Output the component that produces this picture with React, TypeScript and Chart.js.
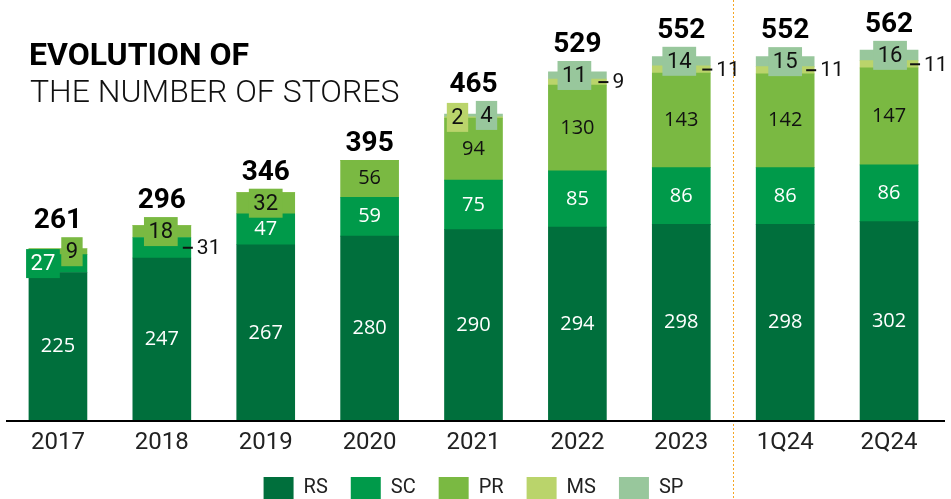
import React, { useEffect, useRef } from 'react';
import { Chart, registerables } from 'chart.js';
Chart.register(...registerables);

// ---------- data ----------
const categories = ['2017', '2018', '2019', '2020', '2021', '2022', '2023', '1Q24', '2Q24'];
const seriesNames = ['RS', 'SC', 'PR', 'MS', 'SP'];
const rsValues = [225, 247, 267, 280, 290, 294, 298, 298, 302];
const scValues = [27, 31, 47, 59, 75, 85, 86, 86, 86];
const prValues = [9, 18, 32, 56, 94, 130, 143, 142, 147];
const msValues = [0, 0, 0, 0, 2, 9, 11, 11, 11];
const spValues = [0, 0, 0, 0, 4, 11, 14, 15, 16];
const titleBold = 'EVOLUTION OF';
const titleLight = 'THE NUMBER OF STORES';

// ---------- styles ----------
const seriesValues = [rsValues, scValues, prValues, msValues, spValues];
const colors = ['#006f3c', '#009a4a', '#7ab942', '#bad46b', '#98c79c'];
const textColors = ['#ffffff', '#ffffff', '#111111', '#111111', '#111111'];
// label drawn in a coloured box, value = horizontal offset from bar centre
const boxPlacement: Record<number, Record<number, number>> = {
  1: { 0: -15 },
  2: { 0: 14, 1: -1, 2: 0 },
  3: { 4: -16 },
  4: { 4: 13, 5: -3, 6: -2, 7: 0, 8: 1 },
};
// label drawn to the right of the bar with a leader dash
const sidePlacement: Record<number, number[]> = { 1: [1], 3: [5, 6, 7, 8] };

const PX_PER_UNIT = 0.66;

const storePlugin = {
  id: 'storePlugin',
  beforeDatasetsDraw(chart: any) {
    const { ctx, scales } = chart;
    const xs = scales.x;
    const sepX = Math.round((xs.getPixelForValue(6) + xs.getPixelForValue(7)) / 2) + 0.5;
    ctx.save();
    ctx.strokeStyle = '#f5a623';
    ctx.lineWidth = 1;
    ctx.setLineDash([2, 2]);
    ctx.beginPath();
    ctx.moveTo(sepX, 0);
    ctx.lineTo(sepX, chart.height);
    ctx.stroke();
    ctx.restore();
  },
  afterDatasetsDraw(chart: any) {
    const { ctx, chartArea } = chart;
    const tops: number[] = categories.map(() => Infinity);
    ctx.save();
    chart.data.datasets.forEach((ds: any, di: number) => {
      const meta = chart.getDatasetMeta(di);
      meta.data.forEach((el: any, i: number) => {
        const v = ds.data[i] as number;
        const p = el.getProps(['x', 'y', 'base', 'width'], true);
        tops[i] = Math.min(tops[i], p.y, p.base);
        if (!v) return;
        const cy = (p.y + p.base) / 2;
        const boxDx = boxPlacement[di] ? boxPlacement[di][i] : undefined;
        const side = sidePlacement[di] ? sidePlacement[di].includes(i) : false;
        const txt = String(v);
        if (boxDx !== undefined) {
          ctx.font = '400 22px Roboto';
          const tw = ctx.measureText(txt).width;
          const bw = tw + 9;
          const bh = 29;
          const cx = p.x + boxDx;
          ctx.fillStyle = colors[di];
          ctx.fillRect(cx - bw / 2, cy - bh / 2, bw, bh);
          tops[i] = Math.min(tops[i], cy - bh / 2);
          ctx.fillStyle = textColors[di];
          ctx.textAlign = 'center';
          ctx.textBaseline = 'middle';
          ctx.fillText(txt, cx, cy + 1);
        } else if (side) {
          const right = p.x + p.width / 2;
          ctx.strokeStyle = '#111';
          ctx.lineWidth = 2;
          ctx.setLineDash([]);
          ctx.beginPath();
          ctx.moveTo(right - 8, cy);
          ctx.lineTo(right + 2, cy);
          ctx.stroke();
          ctx.font = '400 21px Roboto';
          ctx.fillStyle = '#111';
          ctx.textAlign = 'left';
          ctx.textBaseline = 'middle';
          ctx.fillText(txt, right + 6, cy + 1);
        } else {
          ctx.font = '400 20px "Open Sans"';
          ctx.fillStyle = textColors[di];
          ctx.textAlign = 'center';
          ctx.textBaseline = 'middle';
          ctx.fillText(txt, p.x, cy);
        }
      });
    });
    // totals
    const meta0 = chart.getDatasetMeta(0);
    ctx.font = '700 28px Roboto';
    ctx.fillStyle = '#000';
    ctx.textAlign = 'center';
    ctx.textBaseline = 'alphabetic';
    categories.forEach((_, i) => {
      const total = seriesValues.reduce((s, arr) => s + arr[i], 0);
      ctx.fillText(String(total), meta0.data[i].x, tops[i] - 9);
    });
    // axis line
    ctx.strokeStyle = '#000';
    ctx.lineWidth = 2;
    ctx.beginPath();
    ctx.moveTo(6, chartArea.bottom);
    ctx.lineTo(945, chartArea.bottom);
    ctx.stroke();
    // title
    ctx.textAlign = 'left';
    ctx.textBaseline = 'alphabetic';
    ctx.fillStyle = '#000';
    ctx.font = '700 32px Roboto';
    ctx.fillText(titleBold, 29, 65);
    ctx.fillStyle = '#111';
    ctx.font = '300 32px Roboto';
    ctx.fillText(titleLight, 30, 102);
    ctx.restore();
  },
};

export default function App() {
  const ref = useRef<HTMLCanvasElement | null>(null);
  useEffect(() => {
    if (!ref.current) return;
    const chartBottom = 421;
    const chart = new Chart(ref.current, {
      type: 'bar',
      data: {
        labels: categories,
        datasets: seriesNames.map((name, di) => ({
          label: name,
          data: seriesValues[di],
          backgroundColor: colors[di],
          borderWidth: 0,
          barThickness: 58,
        })),
      },
      options: {
        responsive: false,
        animation: false,
        layout: { padding: { left: 6, right: 10, top: 0, bottom: 0 } },
        scales: {
          x: {
            stacked: true,
            grid: { display: false, drawTicks: false },
            border: { display: false },
            ticks: { font: { family: 'Roboto', size: 24 }, color: '#222', padding: 8 },
            afterFit: (scale: any) => { scale.height = 33; },
          },
          y: {
            stacked: true,
            display: false,
            min: 0,
            max: chartBottom / PX_PER_UNIT,
          },
        },
        plugins: {
          legend: {
            position: 'bottom',
            maxHeight: 45,
            labels: {
              boxWidth: 30,
              boxHeight: 22,
              padding: 23,
              color: '#222',
              font: { family: 'Roboto', size: 20 },
            },
          },
          tooltip: { enabled: false },
        },
      },
      plugins: [storePlugin],
    } as any);
    return () => chart.destroy();
  }, []);
  return (
    <div style={{ position: 'absolute', left: 0, top: 0, width: 951, height: 499, background: '#fff' }}>
      <canvas ref={ref} width={951} height={499} style={{ display: 'block' }} />
    </div>
  );
}
